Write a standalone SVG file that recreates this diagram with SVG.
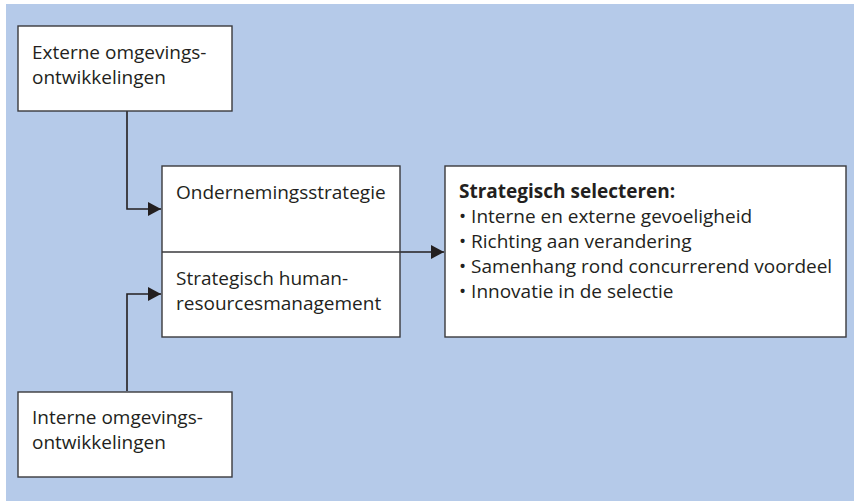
<svg xmlns="http://www.w3.org/2000/svg" width="855" height="502" viewBox="0 0 855 502">
<defs>
<style>
.box{fill:#fff;stroke:#3a3a3c;stroke-width:1.4}
.t{font-family:"Open Sans","Noto Sans",sans-serif;font-size:19px;fill:#231f20}
.b{font-weight:bold}
.c{fill:none;stroke:#231f20;stroke-width:1.6}
</style>
<marker id="ah" markerWidth="13" markerHeight="14" refX="13" refY="7" orient="auto" markerUnits="userSpaceOnUse">
<path d="M0,0 L13,7 L0,14 Z" fill="#231f20"/>
</marker>
</defs>
<rect x="6" y="4" width="848" height="497" fill="#b5cae9"/>
<g id="connectors">
<path class="c" d="M127,111 V209 H161" marker-end="url(#ah)"/>
<path class="c" d="M127,391 V294 H161" marker-end="url(#ah)"/>
<path class="c" d="M400,252 H444" marker-end="url(#ah)"/>
</g>
<g id="externe">
<rect class="box" x="18" y="26" width="214" height="85"/>
<text class="t" x="32" y="59">Externe omgevings-</text>
<text class="t" x="32" y="84">ontwikkelingen</text>
</g>
<g id="strategie">
<rect class="box" x="162" y="166" width="238" height="171"/>
<line x1="162" y1="252" x2="400" y2="252" stroke="#3a3a3c" stroke-width="1.4"/>
<text class="t" x="176" y="199">Ondernemingsstrategie</text>
<text class="t" x="176" y="285">Strategisch human-</text>
<text class="t" x="176" y="310">resourcesmanagement</text>
</g>
<g id="selecteren">
<rect class="box" x="445" y="166" width="401" height="171"/>
<text class="t b" x="459" y="198">Strategisch selecteren:</text>
<text class="t" x="459" y="222.5">• Interne en externe gevoeligheid</text>
<text class="t" x="459" y="247.5">• Richting aan verandering</text>
<text class="t" x="459" y="272.5">• Samenhang rond concurrerend voordeel</text>
<text class="t" x="459" y="297.5">• Innovatie in de selectie</text>
</g>
<g id="interne">
<rect class="box" x="18" y="392" width="214" height="85"/>
<text class="t" x="32" y="424">Interne omgevings-</text>
<text class="t" x="32" y="449">ontwikkelingen</text>
</g>
</svg>
